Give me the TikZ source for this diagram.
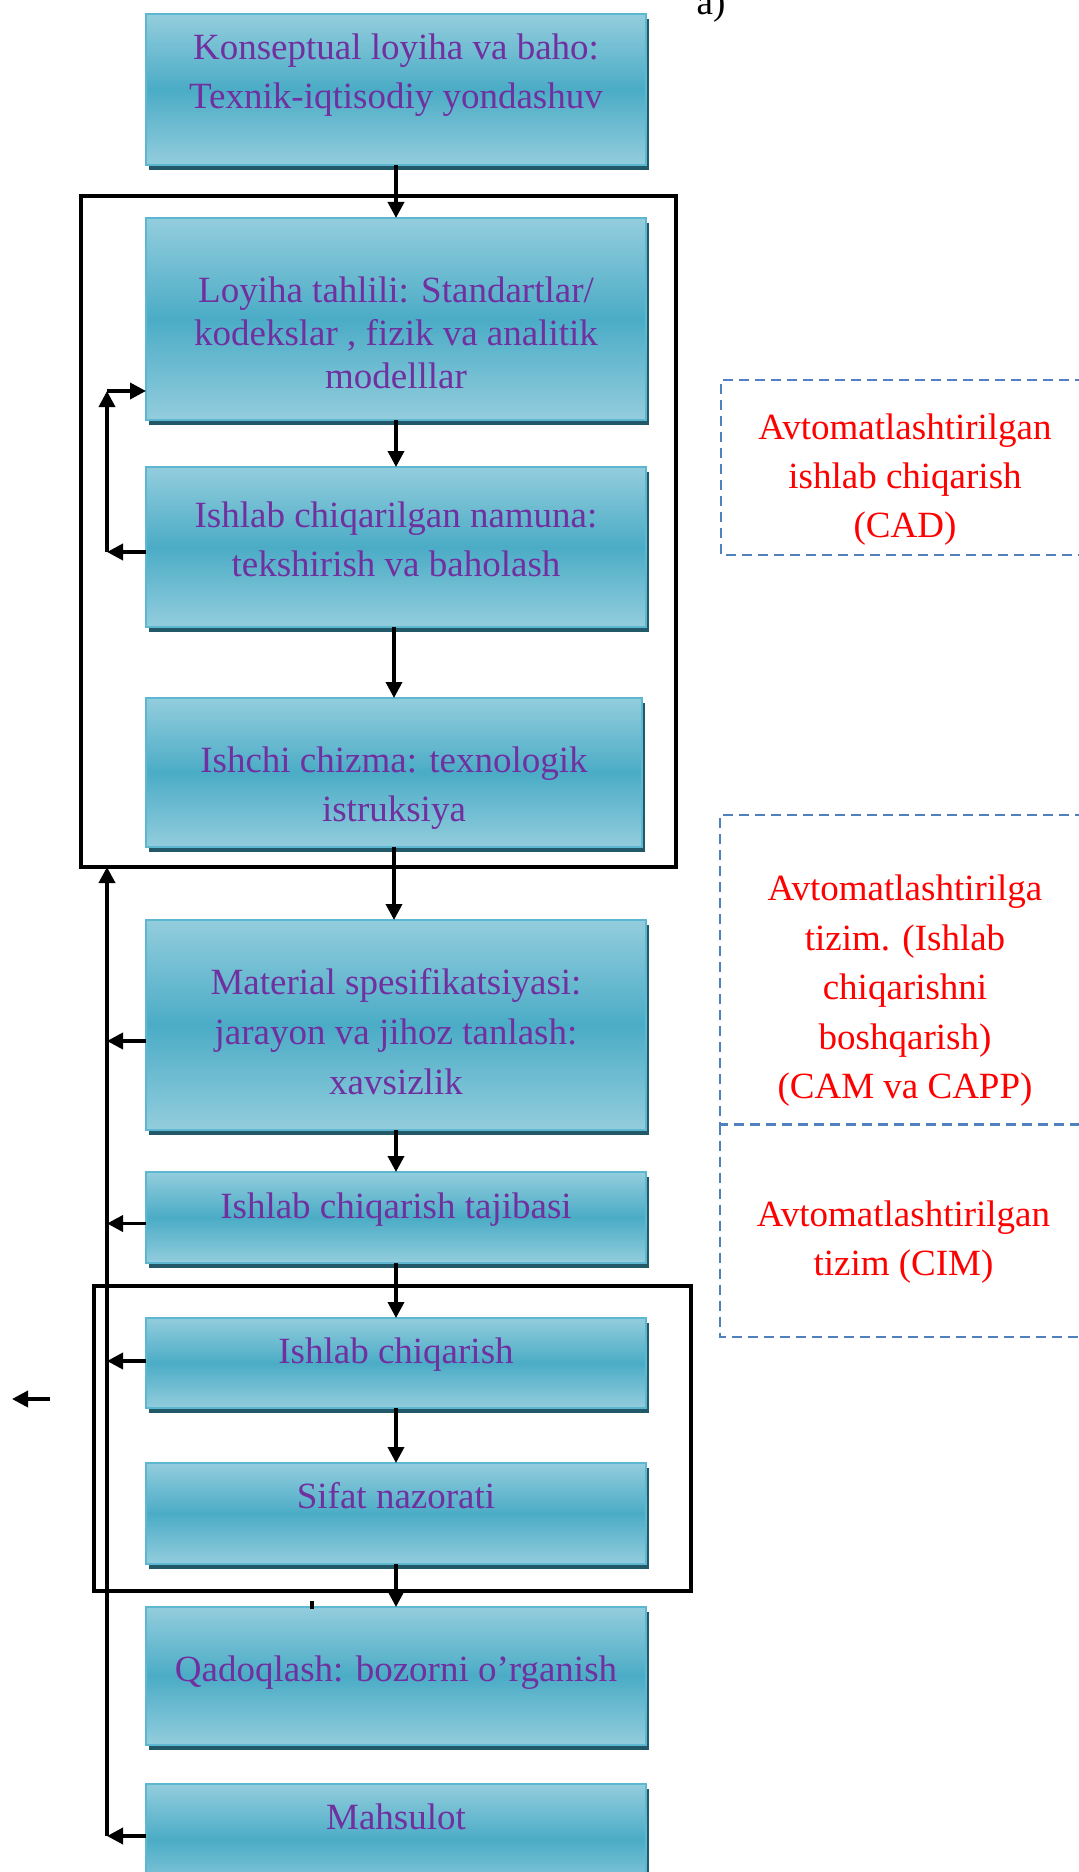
\documentclass[tikz,border=0pt]{standalone}
\usepackage{fontspec}
\setmainfont{Liberation Serif}
\usetikzlibrary{arrows.meta,shadows}
\definecolor{boxlight}{HTML}{93CDDD}
\definecolor{boxdark}{HTML}{4BACC6}
\definecolor{boxedge}{HTML}{5DB7D0}
\definecolor{boxshadow}{HTML}{215968}
\definecolor{txtpurple}{HTML}{7030A0}
\definecolor{dashblue}{HTML}{4F81BD}
\definecolor{txtred}{HTML}{FF0000}
\begin{document}
\begin{tikzpicture}[x=0.5pt,y=-0.5pt,
  blk/.style={draw=boxedge, line width=0.6pt, top color=boxlight, bottom color=boxlight, middle color=boxdark,
    drop shadow={shadow xshift=1.5pt, shadow yshift=-2.5pt, fill=boxshadow, opacity=1},
    inner sep=0pt, outer sep=0pt, minimum width=250pt},
  btxt/.style={text=txtpurple, align=center, inner sep=0pt, font=\fontsize{18.5}{24.5}\selectfont},
  rtxt/.style={text=txtred, align=center, inner sep=0pt, font=\fontsize{18.5}{24.75}\selectfont},
  bigrect/.style={draw=black, line width=1.8pt, inner sep=0pt, outer sep=0pt},
  conn/.style={draw=black, line width=1.8pt},
  arr/.style={conn, -{Triangle[length=8pt,width=8pt]}},
  dbox/.style={draw=dashblue, line width=1.3pt, dash pattern=on 5pt off 3pt}
]
\useasboundingbox (0,0) rectangle (1079,1872);

% big frames
\node[bigrect, minimum width=297.5pt, minimum height=335.5pt] (r1) at (378.5,531.5) {};
\node[bigrect, minimum width=298.5pt, minimum height=152.5pt] (r2) at (392.5,1438.5) {};

% boxes
\node[blk, minimum height=75.5pt] (b1) at (396,89.5) {};
\node[blk, minimum height=101pt] (b2) at (396,319) {};
\node[blk, minimum height=80pt] (b3) at (396,547) {};
\node[blk, minimum height=74.5pt, minimum width=248pt] (b4) at (394,772.5) {};
\node[blk, minimum height=105pt] (b5) at (396,1025) {};
\node[blk, minimum height=45.5pt] (b6) at (396,1217.5) {};
\node[blk, minimum height=45pt] (b7) at (396,1363) {};
\node[blk, minimum height=50.5pt] (b8) at (396,1513.5) {};
\node[blk, minimum height=69pt] (b9) at (396,1676) {};
\node[blk, minimum height=55.5pt] (b10) at (396,1839.5) {};

% box texts
\node[btxt] (t1) at (396,75) {Konseptual loyiha va baho:\\Texnik-iqtisodiy yondashuv};
\node[btxt, font=\fontsize{18.5}{21.5}\selectfont] (t2) at (396,333) {Loyiha tahlili: Standartlar/\\kodekslar , fizik va analitik\\modelllar};
\node[btxt] (t3) at (396,539) {Ishlab chiqarilgan namuna:\\tekshirish va baholash};
\node[btxt] (t4) at (394,788.5) {Ishchi chizma: texnologik\\istruksiya};
\node[btxt, font=\fontsize{18.5}{25}\selectfont] (t5) at (396,1032) {Material spesifikatsiyasi:\\jarayon va jihoz tanlash:\\xavsizlik};
\node[btxt] (t6) at (396,1210) {Ishlab chiqarish tajibasi};
\node[btxt] (t7) at (396,1355) {Ishlab chiqarish};
\node[btxt] (t8) at (396,1496) {Sifat nazorati};
\node[btxt] (t9) at (396,1672.5) {Qadoqlash: bozorni o’rganish};
\node[btxt] (t10) at (396,1817) {Mahsulot};

% main flow
\draw[arr] (b1.south) -- (b2.north);
\draw[arr] (b2.south) -- (b3.north);
\draw[arr] (b3.south -| b4.south) -- (b4.north);
\draw[arr] (b4.south) -- (b4.south |- b5.north);
\draw[arr] (b5.south) -- (b6.north);
\draw[arr] (b6.south) -- (b7.north);
\draw[arr] (b7.south) -- (b8.north);
\draw[arr] (b8.south) -- (b9.north);

% inner feedback
\coordinate (m3) at (107,552);
\coordinate (m2) at (107,391);
\draw[arr] (b3.west |- m3) -- (m3);
\draw[arr] (m3) -- (m2);
\draw[arr] (m2) -- (b2.west |- m2);

% outer feedback
\coordinate (m5) at (107,1041);
\coordinate (m6) at (107,1223.5);
\coordinate (m7) at (107,1361);
\coordinate (m10) at (107,1836);
\draw[arr] (m10) -- (m10 |- r1.south);
\draw[arr] (b5.west |- m5) -- (m5);
\draw[arr] (b6.west |- m6) -- (m6);
\draw[arr] (b7.west |- m7) -- (m7);
\draw[arr] (b10.west |- m10) -- (m10);

% stray arrow and tick
\coordinate (sa) at (50,1399);
\coordinate (sb) at (12,1399);
\draw[arr] (sa) -- (sb);
\coordinate (tk1) at (312,1601);
\coordinate (tk2) at (312,1609);
\draw[conn] (tk1) -- (tk2);

% label a)
\node[anchor=base, inner sep=0pt, font=\fontsize{18.5}{24.5}\selectfont] (lbl) at (711,15) {a)};

% dashed regions
\draw[dbox] (1085,380) -- (721,380) -- (721,555) -- (1085,555);
\draw[dbox] (1085,815) -- (720,815) -- (720,1124.5) -- (1085,1124.5);
\draw[dbox] (720,1124.5) -- (720,1337) -- (1085,1337);
\node[rtxt, font=\fontsize{18.5}{24.5}\selectfont] (d1) at (905,480) {Avtomatlashtirilgan\\ishlab chiqarish\\(CAD)};
\node[rtxt] (d2) at (905,991) {Avtomatlashtirilga\\tizim. (Ishlab\\chiqarishni\\boshqarish)\\(CAM va CAPP)};
\node[rtxt] (d3) at (903.5,1242) {Avtomatlashtirilgan\\tizim (CIM)};
\end{tikzpicture}
\end{document}
